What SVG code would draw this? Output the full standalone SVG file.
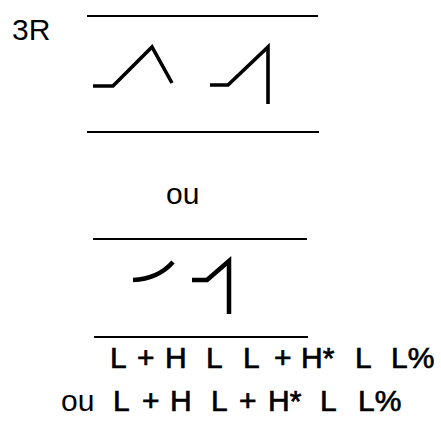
<svg xmlns="http://www.w3.org/2000/svg" width="441" height="424" viewBox="0 0 441 424">
<style>
.t{font-family:"Liberation Sans",Arial,sans-serif;font-size:30px;fill:#000}
.b{stroke:#000;stroke-width:0.7}
.rule{stroke:#000;stroke-width:2;fill:none}
.c{stroke:#000;stroke-width:3.6;fill:none;stroke-linejoin:miter;stroke-linecap:butt}
</style>
<rect width="441" height="424" fill="#fff"/>
<g id="label-3R"><text class="t" x="12" y="40">3R</text></g>
<g id="staff-1">
<line class="rule" x1="87" y1="16" x2="318" y2="16"/>
<line class="rule" x1="87" y1="132" x2="319" y2="132"/>
<path class="c" d="M93,86 H113 L152,47 L172,83"/>
<path class="c" d="M210,85 H228 L268,47 V104"/>
</g>
<g id="label-ou"><text class="t" x="166" y="204">ou</text></g>
<g id="staff-2">
<line class="rule" x1="93" y1="239" x2="307" y2="239"/>
<line class="rule" x1="94" y1="337" x2="308" y2="337"/>
<path class="c" style="stroke-width:4.5" d="M133,280 Q158,279 173,262"/>
<path class="c" style="stroke-width:4.5" d="M192,280 H207 L229,261 V314"/>
</g>
<g id="row-1" class="t b">
<text x="110" y="368">L</text>
<text x="137" y="368">+</text>
<text x="165" y="368">H</text>
<text x="206" y="368">L</text>
<text x="243" y="368">L</text>
<text x="274" y="368">+</text>
<text x="301" y="368">H*</text>
<text x="355" y="368">L</text>
<text x="391" y="368">L%</text>
</g>
<g id="row-2" class="t">
<text x="61" y="411">ou</text>
<g class="b">
<text x="113" y="411">L</text>
<text x="142" y="411">+</text>
<text x="170" y="411">H</text>
<text x="211" y="411">L</text>
<text x="239" y="411">+</text>
<text x="268" y="411">H*</text>
<text x="320" y="411">L</text>
<text x="358" y="411">L%</text>
</g>
</g>
</svg>
